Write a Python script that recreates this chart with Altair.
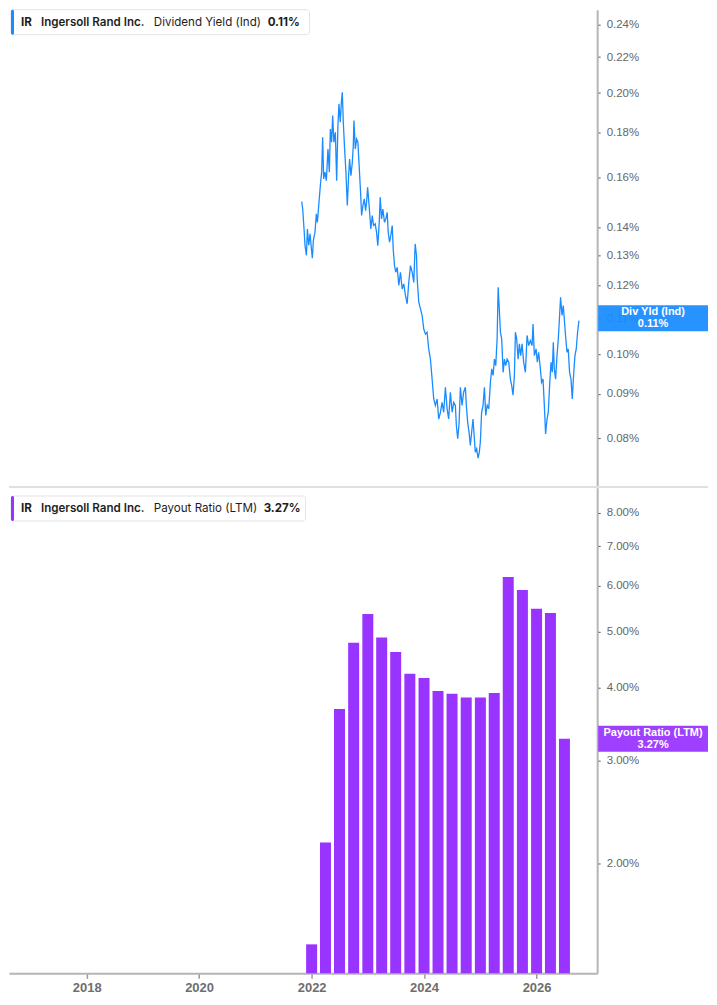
import pandas as pd
import altair as alt

# Dividend yield (indicated), in % (x in decimal years)
yield_years = [
    2021.824, 2021.841, 2021.864, 2021.881, 2021.906, 2021.923, 2021.946, 2021.969, 2021.993, 2022.010,
    2022.028, 2022.056, 2022.080, 2022.098, 2022.126, 2022.155, 2022.173, 2022.190, 2022.208, 2022.230,
    2022.255, 2022.283, 2022.307, 2022.325, 2022.347, 2022.365, 2022.387, 2022.412, 2022.435, 2022.457,
    2022.475, 2022.499, 2022.517, 2022.534, 2022.551, 2022.574, 2022.597, 2022.621, 2022.644, 2022.661,
    2022.684, 2022.709, 2022.726, 2022.737, 2022.761, 2022.784, 2022.806, 2022.831, 2022.853, 2022.871,
    2022.894, 2022.918, 2022.941, 2022.958, 2022.976, 2022.993, 2023.016, 2023.033, 2023.058, 2023.080,
    2023.110, 2023.133, 2023.155, 2023.180, 2023.197, 2023.220, 2023.243, 2023.272, 2023.295, 2023.319,
    2023.337, 2023.360, 2023.382, 2023.407, 2023.424, 2023.447, 2023.469, 2023.494, 2023.522, 2023.551,
    2023.581, 2023.609, 2023.639, 2023.668, 2023.696, 2023.726, 2023.756, 2023.784, 2023.808, 2023.831,
    2023.843, 2023.871, 2023.901, 2023.930, 2023.958, 2023.988, 2024.017, 2024.045, 2024.075, 2024.105,
    2024.133, 2024.162, 2024.192, 2024.220, 2024.250, 2024.279, 2024.307, 2024.337, 2024.367, 2024.394,
    2024.424, 2024.454, 2024.482, 2024.511, 2024.529, 2024.552, 2024.576, 2024.599, 2024.628, 2024.656,
    2024.686, 2024.703, 2024.726, 2024.750, 2024.773, 2024.796, 2024.820, 2024.843, 2024.860, 2024.883,
    2024.908, 2024.930, 2024.948, 2024.970, 2024.995, 2025.017, 2025.040, 2025.065, 2025.093, 2025.122,
    2025.145, 2025.169, 2025.192, 2025.215, 2025.239, 2025.257, 2025.274, 2025.297, 2025.319, 2025.344,
    2025.367, 2025.389, 2025.414, 2025.442, 2025.471, 2025.494, 2025.518, 2025.541, 2025.559, 2025.581,
    2025.606, 2025.628, 2025.651, 2025.675, 2025.703, 2025.733, 2025.763, 2025.791, 2025.820, 2025.850,
    2025.867, 2025.890, 2025.920, 2025.942, 2025.965, 2025.995, 2026.017, 2026.042, 2026.065, 2026.087,
    2026.112, 2026.134, 2026.157, 2026.182, 2026.204, 2026.222, 2026.239, 2026.262, 2026.286, 2026.309,
    2026.332, 2026.349, 2026.374, 2026.396, 2026.414, 2026.436, 2026.461, 2026.483, 2026.506, 2026.531,
    2026.553, 2026.576, 2026.600, 2026.623, 2026.646, 2026.670,
]
yield_pct = [
    0.1499, 0.1470, 0.1394, 0.1335, 0.1300, 0.1394, 0.1335, 0.1376, 0.1322, 0.1290,
    0.1353, 0.1382, 0.1451, 0.1419, 0.1497, 0.1578, 0.1621, 0.1778, 0.1592, 0.1621,
    0.1585, 0.1724, 0.1621, 0.1818, 0.1755, 0.1884, 0.1755, 0.1802, 0.1585, 0.1834,
    0.1943, 0.1851, 0.1951, 0.2004, 0.1851, 0.1724, 0.1621, 0.1484, 0.1606, 0.1679,
    0.1606, 0.1664, 0.1740, 0.1859, 0.1724, 0.1770, 0.1755, 0.1635, 0.1537, 0.1445,
    0.1484, 0.1510, 0.1464, 0.1497, 0.1557, 0.1510, 0.1445, 0.1394, 0.1445, 0.1407,
    0.1413, 0.1382, 0.1334, 0.1419, 0.1517, 0.1432, 0.1470, 0.1419, 0.1432, 0.1457,
    0.1382, 0.1346, 0.1370, 0.1407, 0.1322, 0.1265, 0.1243, 0.1259, 0.1200, 0.1243,
    0.1189, 0.1205, 0.1168, 0.1143, 0.1210, 0.1265, 0.1243, 0.1210, 0.1340, 0.1299,
    0.1221, 0.1148, 0.1128, 0.1108, 0.1069, 0.1055, 0.1060, 0.1014, 0.0987, 0.0936,
    0.0888, 0.0873, 0.0888, 0.0842, 0.0857, 0.0880, 0.0857, 0.0916, 0.0865, 0.0842,
    0.0904, 0.0857, 0.0880, 0.0873, 0.0827, 0.0799, 0.0831, 0.0916, 0.0873, 0.0904,
    0.0916, 0.0873, 0.0835, 0.0813, 0.0785, 0.0813, 0.0842, 0.0799, 0.0771, 0.0778,
    0.0759, 0.0771, 0.0792, 0.0857, 0.0873, 0.0916, 0.0850, 0.0873, 0.0865, 0.0928,
    0.0962, 0.0945, 0.0987, 0.0970, 0.1041, 0.1194, 0.1138, 0.1060, 0.1041, 0.0953,
    0.0987, 0.0970, 0.0987, 0.0979, 0.0936, 0.0920, 0.0897, 0.0945, 0.1060, 0.1041,
    0.0987, 0.1028, 0.0996, 0.1028, 0.0979, 0.0953, 0.1051, 0.1023, 0.1037, 0.1023,
    0.1083, 0.0996, 0.1014, 0.0979, 0.1005, 0.0962, 0.0928, 0.0936, 0.0873, 0.0809,
    0.0842, 0.0857, 0.0920, 0.0979, 0.0953, 0.1032, 0.0962, 0.0936, 0.0996, 0.1041,
    0.1108, 0.1163, 0.1108, 0.1138, 0.1098, 0.1051, 0.1005, 0.1014, 0.0953, 0.0936,
    0.0888, 0.0945, 0.0996, 0.1014, 0.1060, 0.1093,
]

# Payout ratio (LTM), in %, one bar per quarter
payout_dates = [
    "2022-01-01", "2022-04-01", "2022-07-01", "2022-10-01",
    "2023-01-01", "2023-04-01", "2023-07-01", "2023-10-01",
    "2024-01-01", "2024-04-01", "2024-07-01", "2024-10-01",
    "2025-01-01", "2025-04-01", "2025-07-01", "2025-10-01",
    "2026-01-01", "2026-04-01", "2026-07-01",
]
payout_pct = [
    1.45, 2.17, 3.68, 4.78, 5.36, 4.88, 4.61, 4.23, 4.16, 3.95,
    3.91, 3.85, 3.85, 3.92, 6.20, 5.89, 5.47, 5.38, 3.27,
]

# Labels and axis ticks
ticker = "IR"
company = "Ingersoll Rand Inc."
yield_name = "Dividend Yield (Ind)"
payout_name = "Payout Ratio (LTM)"
yield_last = 0.11
payout_last = 3.27
yield_ticks = [0.08, 0.09, 0.10, 0.11, 0.12, 0.13, 0.14, 0.16, 0.18, 0.20, 0.22, 0.24]
payout_ticks = [2, 3, 4, 5, 6, 7, 8]
year_ticks = [2018, 2020, 2022, 2024, 2026]


def to_date(y):
    whole = int(y)
    return pd.Timestamp(whole, 1, 1) + pd.Timedelta(days=round((y - whole) * 365.25, 3))


yield_df = pd.DataFrame({"date": [to_date(y) for y in yield_years], "value": yield_pct})
payout_df = pd.DataFrame({"date": pd.to_datetime(payout_dates), "value": payout_pct})
one = pd.DataFrame({"k": [0]})

W = 589
H_TOP = 479
H_BOT = 486
BLUE = "#1a8cff"
PURPLE = "#9933ff"

x_scale = alt.Scale(domain=[alt.DateTime(year=2016, month=9, date=16),
                            alt.DateTime(year=2026, month=12, date=28)])
pct_label = "format(datum.value, '.2f') + '%'"


def header(accent, metric, value, top, right):
    # legend-like box in the top-left corner of each panel
    base = alt.Chart(one)
    parts = [
        base.mark_rect(fill="white", stroke="#e3e3e3", strokeWidth=1, cornerRadius=3).encode(
            x=alt.value(2), x2=alt.value(right), y=alt.value(top), y2=alt.value(top + 25)),
        base.mark_rect(fill=accent, cornerRadius=2).encode(
            x=alt.value(2), x2=alt.value(5), y=alt.value(top), y2=alt.value(top + 25)),
    ]
    pieces = [(ticker, 12, "bold"), (company, 32, 600), (metric, 145, "normal"),
              (value, right - 42, "bold")]
    for text, xpos, weight in pieces:
        parts.append(base.mark_text(align="left", baseline="middle", font="Inter",
                                    fontSize=11.6, fontWeight=weight, color="#1e1e1e").encode(
            x=alt.value(xpos), y=alt.value(top + 13), text=alt.value(text)))
    return parts


def badge(color, label, value):
    # last-value tag sitting on the right axis
    base = alt.Chart(one)
    return [
        base.mark_rect(fill=color, height=26, opacity=0.94).encode(
            x=alt.value(W + 1), x2=alt.value(W + 111), y=alt.datum(value)),
        base.mark_text(color="white", fontWeight="bold", fontSize=11, font="Arial", dy=-6).encode(
            x=alt.value(W + 56), y=alt.datum(value), text=alt.value(label)),
        base.mark_text(color="white", fontWeight="bold", fontSize=11, font="Arial", dy=6).encode(
            x=alt.value(W + 56), y=alt.datum(value), text=alt.value(f"{value:.2f}%")),
    ]


# Top panel: dividend yield line
line = alt.Chart(yield_df).mark_line(color=BLUE, strokeWidth=1.3).encode(
    x=alt.X("date:T", scale=x_scale, axis=None),
    y=alt.Y("value:Q",
            scale=alt.Scale(type="log", domain=[0.0701, 0.2495], nice=False),
            axis=alt.Axis(orient="right", values=yield_ticks, labelExpr=pct_label,
                          title=None, labelOverlap=False)),
)
divider = alt.Chart(one).mark_rule(color="#e0e0e0", strokeWidth=2).encode(
    x=alt.value(0), x2=alt.value(700), y=alt.value(H_TOP - 1))

top = alt.layer(
    line, divider,
    *header(BLUE, yield_name, f"{yield_last:.2f}%", 0, 301),
    *badge(BLUE, "Div Yld (Ind)", yield_last),
).properties(width=W, height=H_TOP)

# Bottom panel: payout ratio bars
bars = alt.Chart(payout_df).mark_bar(color=PURPLE, size=11).encode(
    x=alt.X("date:T", scale=x_scale,
            axis=alt.Axis(values=[alt.DateTime(year=y, month=1, date=1) for y in year_ticks],
                          format="%Y", title=None, labelFontWeight="bold", labelFontSize=13,
                          labelColor="#6e6e6e", tickSize=5, tickColor="#9a9a9a", tickWidth=1.5,
                          labelPadding=3)),
    y=alt.Y("value:Q",
            scale=alt.Scale(type="log", domain=[1.293, 8.82], nice=False),
            axis=alt.Axis(orient="right", values=payout_ticks, labelExpr=pct_label,
                          title=None, labelOverlap=False)),
    y2=alt.datum(1.293),
)

bottom = alt.layer(
    bars,
    *header(PURPLE, payout_name, f"{payout_last:.2f}%", 8, 297),
    *badge(PURPLE, "Payout Ratio (LTM)", payout_last),
).properties(width=W, height=H_BOT)

chart = alt.vconcat(top, bottom, spacing=0).properties(
    padding=0
).configure_view(
    strokeWidth=0
).configure_axis(
    grid=False, domainColor="#b5b5b5", domainWidth=2, tickColor="#555555", tickSize=3,
    labelColor="#666666", labelFont="Arial", labelFontSize=11.5, labelPadding=6
)

chart.save("out.html", embed_options={"renderer": "svg", "actions": False})
